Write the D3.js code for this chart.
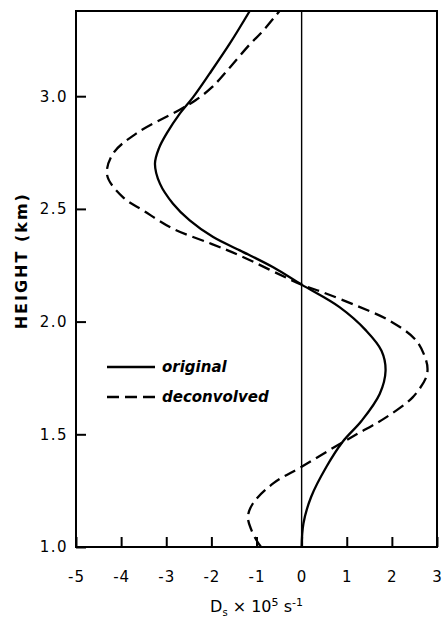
<!DOCTYPE html>
<html>
<head>
<meta charset="utf-8">
<script src="https://cdn.jsdelivr.net/npm/d3@7"></script>
<style>
  body { margin: 0; background: #fff; }
  svg { display: block; }
  text { font-family: "DejaVu Sans", sans-serif; fill: #000; }
</style>
</head>
<body>
<div id="chart"></div>
<script>
// height (km) and divergence values
const origH = [1.0, 1.104, 1.222, 1.356, 1.467, 1.56, 1.679, 1.782, 1.871, 1.96, 2.064, 2.164, 2.241, 2.316, 2.375, 2.449, 2.523, 2.612, 2.70, 2.77, 2.835, 2.923, 2.997, 3.10, 3.234, 3.378];
const origD = [0, 0.04, 0.21, 0.55, 0.91, 1.33, 1.73, 1.86, 1.77, 1.43, 0.84, 0, -0.63, -1.37, -1.96, -2.48, -2.85, -3.14, -3.25, -3.16, -2.99, -2.70, -2.40, -2.04, -1.59, -1.15];

const deconH = [1.0, 1.03, 1.074, 1.133, 1.193, 1.282, 1.356, 1.467, 1.526, 1.575, 1.664, 1.753, 1.79, 1.827, 1.916, 2.004, 2.071, 2.13, 2.164, 2.293, 2.345, 2.412, 2.493, 2.55, 2.65, 2.745, 2.835, 2.94, 2.982, 3.041, 3.13, 3.234, 3.28, 3.378];
const deconD = [-0.9, -1.0, -1.11, -1.19, -1.08, -0.63, 0, 0.93, 1.45, 1.87, 2.46, 2.76, 2.79, 2.76, 2.54, 1.95, 1.21, 0.47, 0, -1.37, -2.0, -2.85, -3.51, -3.95, -4.31, -4.18, -3.66, -2.70, -2.35, -1.98, -1.58, -1.13, -0.9, -0.49];

const xTicks = [-5, -4, -3, -2, -1, 0, 1, 2, 3];
const yTicks = [1.0, 1.5, 2.0, 2.5, 3.0];

const series = [
    { name: "original", h: origH, d: origD, dash: null },
    { name: "deconvolved", h: deconH, d: deconD, dash: "12,6" }
];

const margin = { top: 11, right: 6, bottom: 76, left: 76 },
    W = 443, H = 623,
    width = W - margin.left - margin.right,
    height = H - margin.top - margin.bottom;

const svg = d3.select("#chart")
    .append("svg")
    .attr("width", W)
    .attr("height", H)
    .append("g")
    .attr("transform", "translate(" + margin.left + "," + margin.top + ")");

const x = d3.scaleLinear().domain([-5, 3]).range([0, width]);
const y = d3.scaleLinear().domain([1.0, 3.378]).range([height, 0]);

// x axis, ticks pointing inward
const xa = svg.append("g")
    .attr("transform", "translate(0," + height + ")")
    .call(d3.axisBottom(x).tickValues(xTicks).tickSize(-10).tickPadding(24)
        .tickFormat(d => d3.format("d")(d).replace("−", "-")));
xa.select(".domain").remove();
xa.selectAll("line").attr("stroke-width", 2);
xa.selectAll("text").style("font-size", "15px").attr("letter-spacing", "1px");

// y axis
const ya = svg.append("g")
    .call(d3.axisLeft(y).tickValues(yTicks).tickSize(-10).tickPadding(8)
        .tickFormat(d3.format(".1f")));
ya.select(".domain").remove();
ya.selectAll("line").attr("stroke-width", 2);
ya.selectAll("text").style("font-size", "15px").attr("letter-spacing", "1.5px");

// zero line
svg.append("line")
    .attr("x1", x(0)).attr("x2", x(0))
    .attr("y1", 0).attr("y2", height)
    .attr("stroke", "#000")
    .attr("stroke-width", 1.4);

// curves
const line = d3.line()
    .x(p => x(p[1]))
    .y(p => y(p[0]))
    .curve(d3.curveCatmullRom.alpha(0.5));

svg.selectAll("path.curve")
    .data(series)
    .enter()
    .append("path")
    .attr("class", "curve")
    .attr("d", s => line(s.h.map((v, i) => [v, s.d[i]])))
    .attr("fill", "none")
    .attr("stroke", "#000")
    .attr("stroke-width", 2.3)
    .attr("stroke-dasharray", s => s.dash);

// frame
svg.append("rect")
    .attr("x", 0).attr("y", 0)
    .attr("width", width).attr("height", height)
    .attr("fill", "none")
    .attr("stroke", "#000")
    .attr("stroke-width", 2);

// legend
const leg = svg.append("g").attr("transform", "translate(31,356)");
series.forEach((s, i) => {
    leg.append("line")
        .attr("x1", 0).attr("x2", 48)
        .attr("y1", i * 30).attr("y2", i * 30)
        .attr("stroke", "#000")
        .attr("stroke-width", 2.5)
        .attr("stroke-dasharray", s.dash ? "12,6" : null);
    leg.append("text")
        .attr("x", 55)
        .attr("y", i * 30)
        .attr("dy", "0.35em")
        .style("font-size", "15px")
        .style("font-style", "italic")
        .style("font-weight", "bold")
        .text(s.name);
});

// axis titles
svg.append("text")
    .attr("transform", "translate(" + (-49) + "," + (y(2.27)) + ") rotate(-90)")
    .attr("text-anchor", "middle")
    .style("font-size", "16px")
    .style("font-weight", "bold")
    .attr("letter-spacing", "2px")
    .text("HEIGHT (km)");

const xt = svg.append("text")
    .attr("x", width / 2)
    .attr("y", height + 65)
    .attr("text-anchor", "middle")
    .style("font-size", "16px");
xt.append("tspan").text("D");
xt.append("tspan").attr("dy", 4).style("font-size", "10px").text("s");
xt.append("tspan").attr("dy", -4).text(" × 10");
xt.append("tspan").attr("dy", -6).style("font-size", "11px").text("5");
xt.append("tspan").attr("dy", 6).text(" s");
xt.append("tspan").attr("dy", -6).style("font-size", "11px").text("-1");
</script>
</body>
</html>
